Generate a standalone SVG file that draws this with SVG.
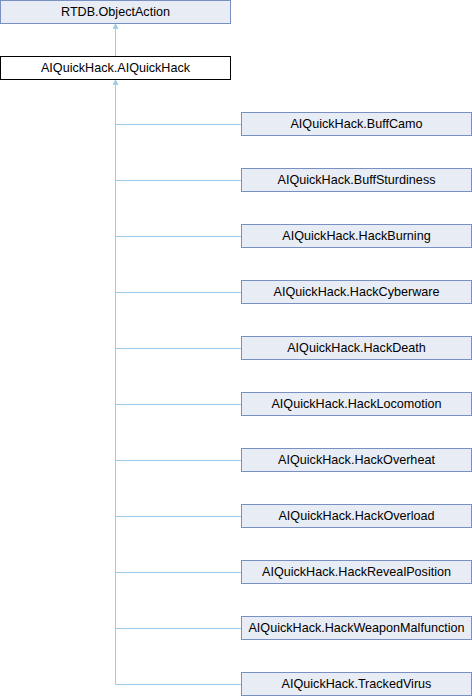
<svg xmlns="http://www.w3.org/2000/svg" width="472" height="696" viewBox="0 0 472 696">
<style>
.n rect{fill:#e8ecf5;stroke:#7890c4;stroke-width:1}
.n.cur rect{fill:#ffffff;stroke:#000000}
text{font-family:"Liberation Sans",Arial,sans-serif;font-size:12.6px;fill:#000;text-anchor:middle}
.e{stroke:#9ccae8;stroke-width:1;fill:none}
</style>
<defs>
<marker id="a" markerWidth="6" markerHeight="6" refX="5" refY="3" orient="auto" markerUnits="userSpaceOnUse" viewBox="0 0 6 6">
<path d="M0.5,0.6 L5,3 L0.5,5.4 Z" fill="#9ccae8" stroke="#9ccae8" stroke-width="0.8"/>
</marker>
</defs>
<g id="edges">
<line class="e" x1="115.5" y1="57" x2="115.5" y2="24" marker-end="url(#a)"/>
<path class="e" d="M115.5,684.5 V80" marker-end="url(#a)"/>
<path class="e" d="M115.5,124.5H241 M115.5,180.5H241 M115.5,236.5H241 M115.5,292.5H241 M115.5,348.5H241 M115.5,404.5H241 M115.5,460.5H241 M115.5,516.5H241 M115.5,572.5H241 M115.5,628.5H241 M115.5,684.5H241"/>
</g>
<g id="n0" class="n"><rect x="0.5" y="0.5" width="230" height="23"/><text x="115.5" y="15.5">RTDB.ObjectAction</text></g>
<g id="n1" class="n cur"><rect x="0.5" y="56.5" width="230" height="23"/><text x="115.5" y="71.5">AIQuickHack.AIQuickHack</text></g>
<g id="n2" class="n"><rect x="241.5" y="112.5" width="230" height="23"/><text x="356.5" y="127.5">AIQuickHack.BuffCamo</text></g>
<g id="n3" class="n"><rect x="241.5" y="168.5" width="230" height="23"/><text x="356.5" y="183.5">AIQuickHack.BuffSturdiness</text></g>
<g id="n4" class="n"><rect x="241.5" y="224.5" width="230" height="23"/><text x="356.5" y="239.5">AIQuickHack.HackBurning</text></g>
<g id="n5" class="n"><rect x="241.5" y="280.5" width="230" height="23"/><text x="356.5" y="295.5">AIQuickHack.HackCyberware</text></g>
<g id="n6" class="n"><rect x="241.5" y="336.5" width="230" height="23"/><text x="356.5" y="351.5">AIQuickHack.HackDeath</text></g>
<g id="n7" class="n"><rect x="241.5" y="392.5" width="230" height="23"/><text x="356.5" y="407.5">AIQuickHack.HackLocomotion</text></g>
<g id="n8" class="n"><rect x="241.5" y="448.5" width="230" height="23"/><text x="356.5" y="463.5">AIQuickHack.HackOverheat</text></g>
<g id="n9" class="n"><rect x="241.5" y="504.5" width="230" height="23"/><text x="356.5" y="519.5">AIQuickHack.HackOverload</text></g>
<g id="n10" class="n"><rect x="241.5" y="560.5" width="230" height="23"/><text x="356.5" y="575.5">AIQuickHack.HackRevealPosition</text></g>
<g id="n11" class="n"><rect x="241.5" y="616.5" width="230" height="23"/><text x="356.5" y="631.5">AIQuickHack.HackWeaponMalfunction</text></g>
<g id="n12" class="n"><rect x="241.5" y="672.5" width="230" height="23"/><text x="356.5" y="687.5">AIQuickHack.TrackedVirus</text></g>
</svg>
